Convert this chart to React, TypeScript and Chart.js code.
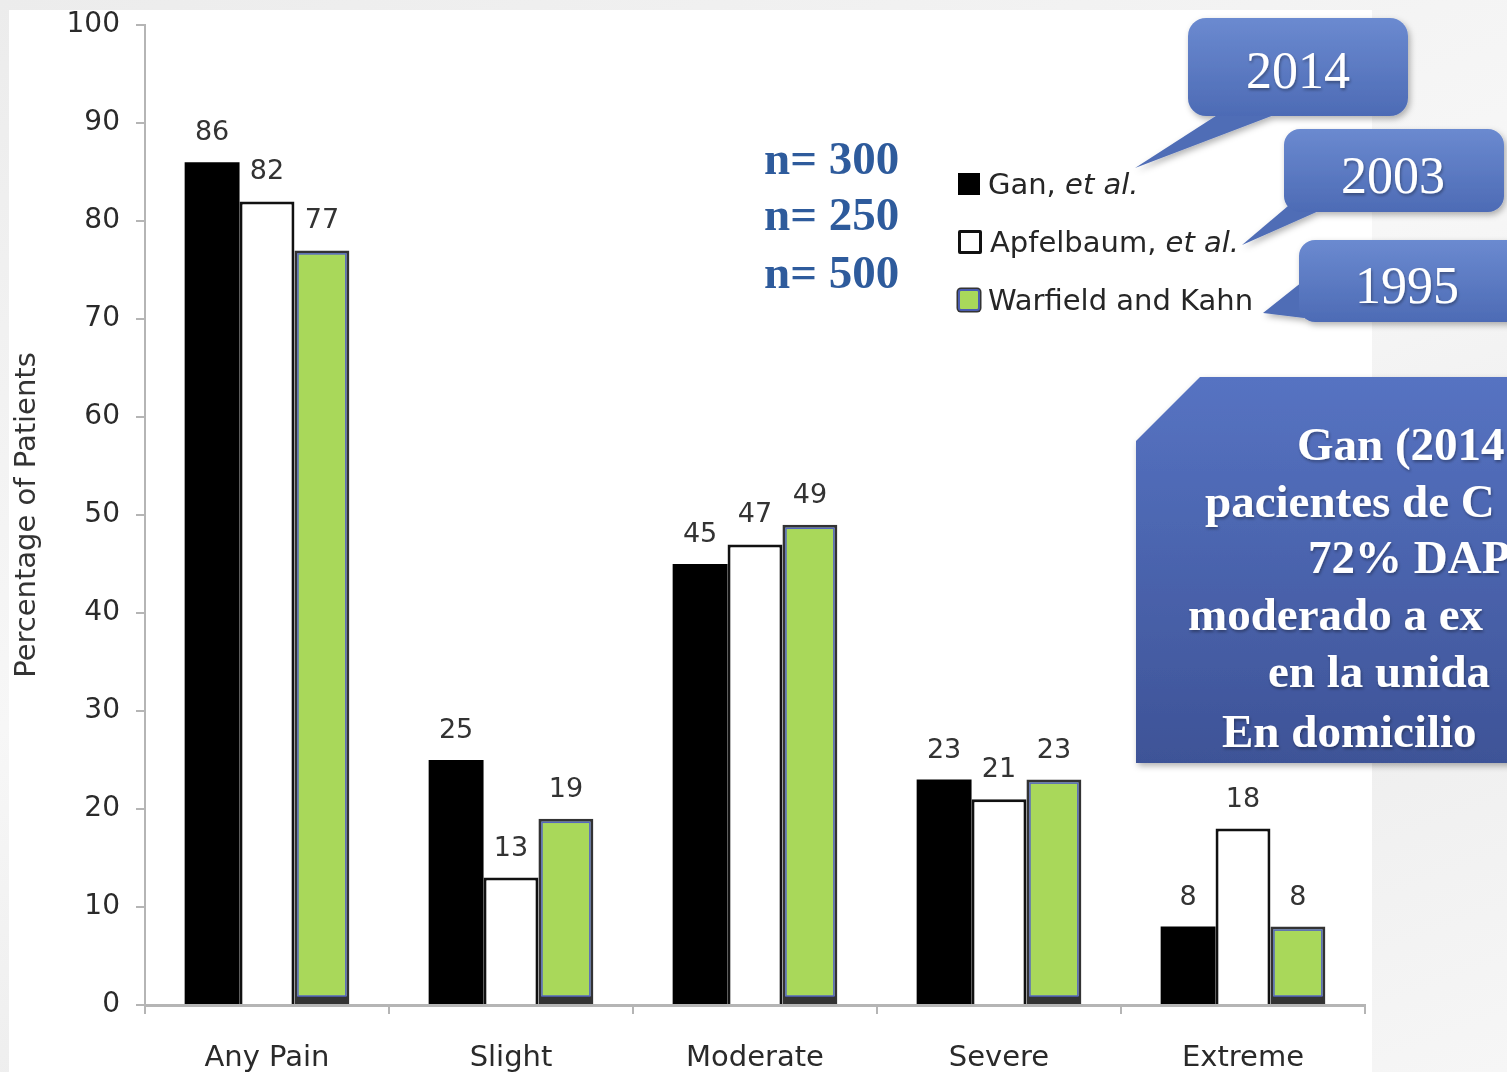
import React, { useEffect, useRef } from "react";
import { Chart, registerables } from "chart.js";

Chart.register(...registerables);

const CATEGORIES = ["Any Pain", "Slight", "Moderate", "Severe", "Extreme"];
const GAN = [86, 25, 45, 23, 8];
const APFELBAUM = [82, 13, 47, 21, 18];
const WARFIELD = [77, 19, 49, 23, 8];
const SERIES_LABELS = ["Gan, et al.", "Apfelbaum, et al.", "Warfield and Kahn"];
const SAMPLE_SIZES = ["n= 300", "n= 250", "n= 500"];
const YEARS = ["2014", "2003", "1995"];
const Y_TITLE = "Percentage of Patients";
const BOX_LINES = ["Gan (2014", "pacientes de C", "72% DAP", "moderado a ex", "en la unida", "En domicilio"];

const GREEN = "#a9d85a";
const SANS = "'DejaVu Sans', Verdana, sans-serif";
const SERIF = "'Liberation Serif', 'Times New Roman', serif";

const barExtras = {
  id: "barExtras",
  afterDatasetsDraw(chart: any) {
    const ctx = chart.ctx;
    ctx.save();
    // blue inner outline on green bars
    const gMeta = chart.getDatasetMeta(2);
    gMeta.data.forEach((bar: any) => {
      const p = bar.getProps(["x", "y", "base", "width"], true);
      const l = p.x - p.width / 2 + 3.5;
      const t = p.y + 3.5;
      const w = p.width - 7;
      const h = p.base - 8 - t;
      ctx.strokeStyle = "#5566c0";
      ctx.lineWidth = 1.5;
      ctx.strokeRect(l, t, w, h);
    });
    // value labels
    ctx.font = `27px ${SANS}`;
    ctx.fillStyle = "#333";
    ctx.textAlign = "center";
    ctx.textBaseline = "alphabetic";
    chart.data.datasets.forEach((ds: any, i: number) => {
      const meta = chart.getDatasetMeta(i);
      meta.data.forEach((bar: any, j: number) => {
        const p = bar.getProps(["x", "y"], true);
        ctx.fillText(String(ds.data[j]), p.x, p.y - 22);
      });
    });
    ctx.restore();
  },
};

function LegendLabel({ text }: { text: string }) {
  const idx = text.indexOf("et al.");
  if (idx < 0) return <span>{text}</span>;
  return (
    <span>
      {text.slice(0, idx)}
      <i>et al.</i>
    </span>
  );
}

export default function App() {
  const canvasRef = useRef<HTMLCanvasElement | null>(null);

  useEffect(() => {
    const chart = new Chart(canvasRef.current as HTMLCanvasElement, {
      type: "bar",
      data: {
        labels: CATEGORIES,
        datasets: [
          {
            label: SERIES_LABELS[0],
            data: GAN,
            backgroundColor: "#000",
            borderWidth: 0,
          },
          {
            label: SERIES_LABELS[1],
            data: APFELBAUM,
            backgroundColor: "#fff",
            borderColor: "#111",
            borderWidth: { top: 3, left: 3, right: 3, bottom: 0 },
          },
          {
            label: SERIES_LABELS[2],
            data: WARFIELD,
            backgroundColor: GREEN,
            borderColor: "#333",
            borderWidth: { top: 3, left: 3, right: 3, bottom: 8 },
            borderSkipped: false,
          },
        ] as any,
      },
      options: {
        responsive: false,
        animation: false,
        devicePixelRatio: 1,
        datasets: { bar: { categoryPercentage: 0.675, barPercentage: 1 } },
        layout: { padding: { left: 8, top: 25, right: 142, bottom: 0 } },
        plugins: { legend: { display: false }, tooltip: { enabled: false } },
        scales: {
          x: {
            grid: {
              display: true,
              drawOnChartArea: false,
              drawTicks: true,
              tickLength: 9,
              color: "#b5b5b5",
              lineWidth: 2,
              offset: true,
            },
            border: { color: "#b5b5b5", width: 3 },
            ticks: { font: { family: SANS, size: 29 }, color: "#2a2a2a", padding: 27 },
            afterFit: (s: any) => {
              s.height = 67;
            },
          },
          y: {
            min: 0,
            max: 100,
            ticks: {
              stepSize: 10,
              font: { family: SANS, size: 28, lineHeight: 0.6 },
              color: "#2a2a2a",
              padding: 16,
            },
            grid: {
              drawOnChartArea: false,
              drawTicks: true,
              tickLength: 9,
              color: "#b5b5b5",
              lineWidth: 2,
            },
            border: { color: "#b5b5b5", width: 2 },
            title: {
              display: true,
              text: Y_TITLE,
              font: { family: SANS, size: 29 },
              color: "#333",
              padding: { top: 2, bottom: 0 },
            },
            afterFit: (s: any) => {
              s.width = 137;
            },
          },
        },
      } as any,
      plugins: [barExtras],
    });
    return () => chart.destroy();
  }, []);

  const legendRows = [184, 242, 300];
  const nBaselines = [175, 231, 289];

  return (
    <div
      style={{
        position: "absolute",
        left: 0,
        top: 0,
        width: 1507,
        height: 1072,
        overflow: "hidden",
        background: "linear-gradient(160deg, #ececec 0%, #f7f7f7 45%, #ededed 70%, #f6f6f6 100%)",
        fontFamily: SANS,
      }}
    >
      <div style={{ position: "absolute", left: 9, top: 10, width: 1363, height: 1062, background: "#fff" }} />
      <canvas
        ref={canvasRef}
        width={1507}
        height={1072}
        style={{ position: "absolute", left: 0, top: 0, width: 1507, height: 1072 }}
      />

      {/* sample sizes */}
      {SAMPLE_SIZES.map((t, i) => (
        <div
          key={t}
          style={{
            position: "absolute",
            left: 764,
            top: nBaselines[i] - 40,
            fontFamily: SERIF,
            fontWeight: "bold",
            fontSize: 47,
            lineHeight: "47px",
            color: "#2e5b9c",
            whiteSpace: "nowrap",
          }}
        >
          {t}
        </div>
      ))}

      {/* legend */}
      {SERIES_LABELS.map((t, i) => {
        const marker =
          i === 0
            ? { background: "#000", border: "2px solid #000" }
            : i === 1
            ? { background: "#fff", border: "3px solid #111", borderRadius: 2 }
            : { background: GREEN, border: "2px solid #4a5cb0", boxShadow: "0 0 0 1.5px #333", borderRadius: 3 };
        return (
          <div
            key={t}
            style={{
              position: "absolute",
              left: 958,
              top: legendRows[i] - 16,
              height: 32,
              display: "flex",
              alignItems: "center",
              whiteSpace: "nowrap",
              fontSize: 29,
              color: "#262626",
            }}
          >
            <div style={{ width: 18, height: 18, marginRight: 8, boxSizing: "content-box", ...marker }} />
            <LegendLabel text={t} />
          </div>
        );
      })}

      {/* callouts and blue box */}
      <svg
        width={1507}
        height={1072}
        style={{ position: "absolute", left: 0, top: 0, pointerEvents: "none" }}
      >
        <defs>
          <filter id="sh" x="-20%" y="-20%" width="140%" height="150%">
            <feDropShadow dx="2" dy="3" stdDeviation="3" floodColor="#000" floodOpacity="0.3" />
          </filter>
          <filter id="tsh" x="-20%" y="-20%" width="140%" height="150%">
            <feDropShadow dx="1" dy="2" stdDeviation="1.5" floodColor="#000" floodOpacity="0.35" />
          </filter>
          <linearGradient id="g1" gradientUnits="userSpaceOnUse" x1="0" y1="18" x2="0" y2="116">
            <stop offset="0" stopColor="#6b8ad0" />
            <stop offset="1" stopColor="#4d6bb5" />
          </linearGradient>
          <linearGradient id="g2" gradientUnits="userSpaceOnUse" x1="0" y1="128" x2="0" y2="212">
            <stop offset="0" stopColor="#6b8ad0" />
            <stop offset="1" stopColor="#4d6bb5" />
          </linearGradient>
          <linearGradient id="g3" gradientUnits="userSpaceOnUse" x1="0" y1="240" x2="0" y2="322">
            <stop offset="0" stopColor="#6b8ad0" />
            <stop offset="1" stopColor="#4d6bb5" />
          </linearGradient>
          <linearGradient id="gb" gradientUnits="userSpaceOnUse" x1="0" y1="377" x2="0" y2="763">
            <stop offset="0" stopColor="#5673c2" />
            <stop offset="1" stopColor="#3e5397" />
          </linearGradient>
        </defs>

        <g filter="url(#sh)">
          <polygon points="1222,112 1282,112 1135,168" fill="#4f6db6" />
          <rect x={1188} y={18} width={220} height={98} rx={18} fill="url(#g1)" />
        </g>
        <g filter="url(#sh)">
          <polygon points="1288,206 1330,206 1242,245" fill="#4f6db6" />
          <rect x={1284} y={129} width={220} height={83} rx={16} fill="url(#g2)" />
        </g>
        <g filter="url(#sh)">
          <polygon points="1302,282 1304,318 1263,313" fill="#4f6db6" />
          <rect x={1299} y={240} width={240} height={82} rx={16} fill="url(#g3)" />
        </g>
        <g filter="url(#tsh)" fontFamily="'Liberation Serif', serif" fontSize="52" fill="#fff" textAnchor="middle">
          <text x={1298} y={88}>{YEARS[0]}</text>
          <text x={1393} y={193}>{YEARS[1]}</text>
          <text x={1407} y={303}>{YEARS[2]}</text>
        </g>

        <g filter="url(#sh)">
          <polygon points="1136,441 1200,377 1540,377 1540,763 1136,763" fill="url(#gb)" />
        </g>
        <g filter="url(#tsh)" fontFamily="'Liberation Serif', serif" fontWeight="bold" fontSize="47" fill="#fff">
          <text x={1297} y={460}>{BOX_LINES[0]}</text>
          <text x={1205} y={517}>{BOX_LINES[1]}</text>
          <text x={1308} y={573}>{BOX_LINES[2]}</text>
          <text x={1188} y={630}>{BOX_LINES[3]}</text>
          <text x={1268} y={687}>{BOX_LINES[4]}</text>
          <text x={1222} y={747}>{BOX_LINES[5]}</text>
        </g>
      </svg>
    </div>
  );
}
